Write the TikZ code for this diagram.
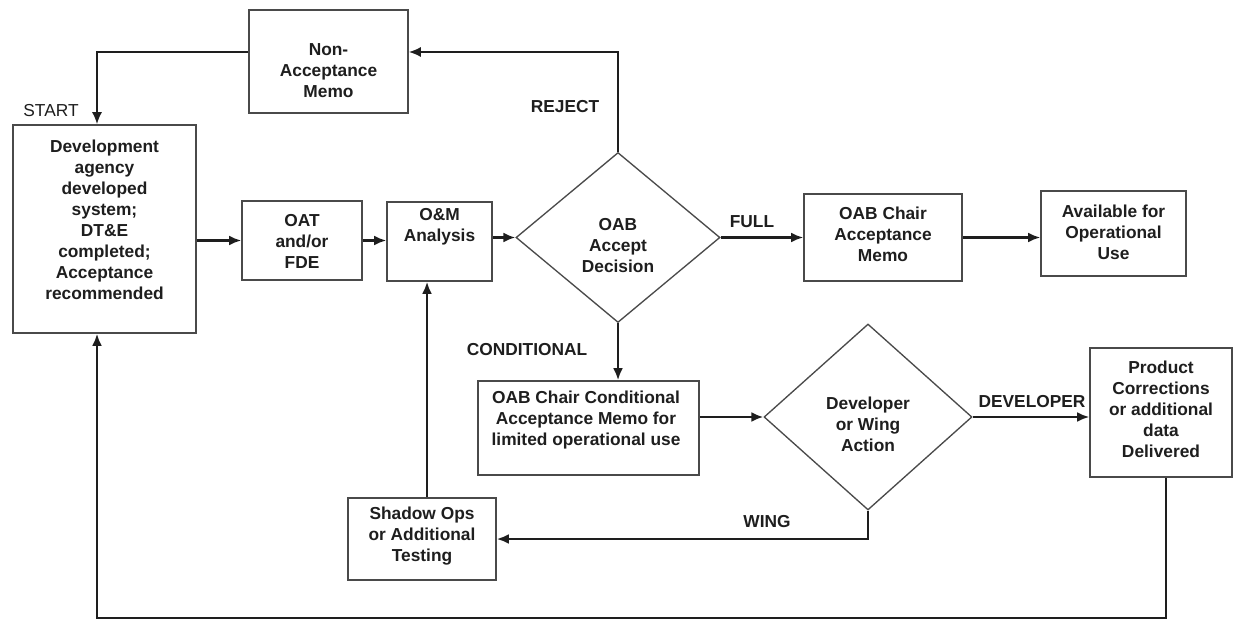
\documentclass[tikz,border=0pt]{standalone}
\usepackage{fontspec}
\setmainfont{Liberation Sans}
\usetikzlibrary{shapes.geometric,arrows.meta}
\definecolor{ink}{HTML}{1E1E1E}
\definecolor{edge}{HTML}{4A4A4A}
\begin{document}
\begin{tikzpicture}[x=0.75pt,y=-0.75pt,
 box/.style={draw=edge,line width=1.2pt,rectangle,inner sep=0pt},
 dia/.style={draw=edge,line width=1pt,diamond,inner sep=0pt},
 txt/.style={align=center,font=\fontsize{13}{15.75}\selectfont\bfseries,text=ink,inner sep=0pt},
 lbl/.style={font=\fontsize{13}{15}\selectfont\bfseries,text=ink,inner sep=0pt},
 lblr/.style={font=\fontsize{13}{15}\selectfont,text=ink,inner sep=0pt},
 conn/.style={draw=ink,line width=2pt,-{Latex[length=9pt,width=7.5pt]}},
 thinconn/.style={draw=ink,line width=1.3pt,-{Latex[length=9pt,width=7.5pt]}}]
\useasboundingbox (0,0) rectangle (1233,624);
\fill[white] (0,0) rectangle (1233,624);

% boxes
\node[box,minimum width=137.25pt,minimum height=156pt] (dev) at (104.5,229) {};
\node[txt] (devt) at (104.5,220) {Development\\agency\\developed\\system;\\DT\&E\\completed;\\Acceptance\\recommended};
\node[box,minimum width=119.25pt,minimum height=77.25pt] (nam) at (328.5,61.5) {};
\node[txt] (namt) at (328.5,71) {Non-\\Acceptance\\Memo};
\node[box,minimum width=90pt,minimum height=59.25pt] (oat) at (302,240.5) {};
\node[txt] (oatt) at (302,241) {OAT\\and/or\\FDE};
\node[box,minimum width=78.75pt,minimum height=59.25pt] (om) at (439.5,241.5) {};
\node[txt] (omt) at (439.5,227) {O\&M\\Analysis};
\node[dia,minimum width=153pt,minimum height=127.5pt] (acc) at (618,237.5) {};
\node[txt] (acct) at (618,246) {OAB\\Accept\\Decision};
\node[box,minimum width=118.5pt,minimum height=65.25pt] (cam) at (883,237.5) {};
\node[txt] (camt) at (883,234) {OAB Chair\\Acceptance\\Memo};
\node[box,minimum width=108.75pt,minimum height=63.75pt] (avl) at (1113.5,233.5) {};
\node[txt] (avlt) at (1113.5,232) {Available for\\Operational\\Use};
\node[box,minimum width=165.75pt,minimum height=70.5pt] (cond) at (588.5,428) {};
\node[txt] (condt) at (586,420) {OAB Chair Conditional\\Acceptance Memo for\\limited operational use};
\node[dia,minimum width=156pt,minimum height=139.5pt] (dw) at (868,417) {};
\node[txt] (dwt) at (868,424) {Developer\\or Wing\\Action};
\node[box,minimum width=106.5pt,minimum height=96.75pt] (prod) at (1161,412.5) {};
\node[txt] (prodt) at (1161,409) {Product\\Corrections\\or additional\\data\\Delivered};
\node[box,minimum width=111pt,minimum height=61.5pt] (shd) at (422,539) {};
\node[txt] (shdt) at (422,536) {Shadow Ops\\or Additional\\Testing};

% labels
\node[lblr] (start) at (51,111) {START};
\node[lbl] (rej) at (565,107) {REJECT};
\node[lbl] (full) at (752,222) {FULL};
\node[lbl] (cnd) at (527,350) {CONDITIONAL};
\node[lbl] (dvl) at (1032,402) {DEVELOPER};
\node[lbl] (wng) at (767,522) {WING};

% helper coordinates
\coordinate (top) at (0,52);
\coordinate (lx) at (97,0);
\coordinate (bot) at (0,618);

% connectors
\draw[thinconn] (acc.north) -- (acc.north |- top) -- (nam.east |- top);
\draw[thinconn] (nam.west |- top) -- (lx |- top) -- (lx |- dev.north);
\draw[conn] (dev.east |- oat.west) -- (oat.west);
\draw[conn] (oat.east) -- (oat.east -| om.west);
\draw[conn] (om.east |- acc.west) -- (acc.west);
\draw[conn] (acc.east) -- (acc.east -| cam.west);
\draw[conn] (cam.east) -- (cam.east -| avl.west);
\draw[conn] (acc.south) -- (acc.south |- cond.north);
\draw[conn] (cond.east |- dw.west) -- (dw.west);
\draw[conn] (dw.east) -- (dw.east -| prod.west);
\draw[conn] (dw.south) |- (shd.east);
\draw[conn] ([xshift=3.75pt]shd.north) -- ([xshift=3.75pt]shd.north |- om.south);
\draw[conn] ([xshift=3.75pt]prod.south) -- ([xshift=3.75pt]prod.south |- bot) -- (lx |- bot) -- (lx |- dev.south);
\end{tikzpicture}
\end{document}
